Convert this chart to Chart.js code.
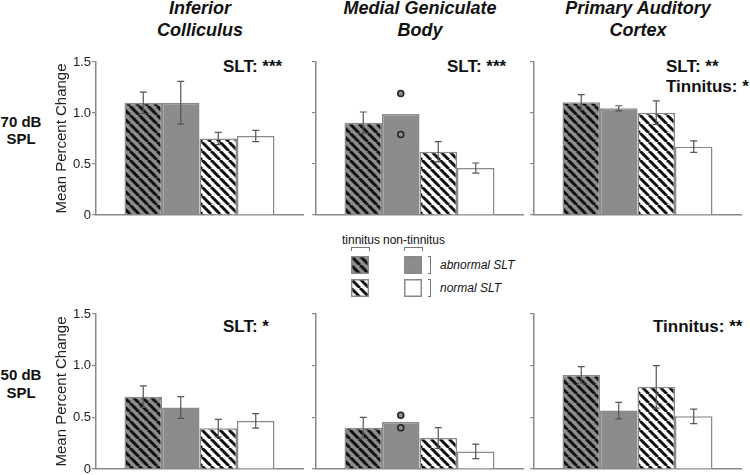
<!DOCTYPE html>
<html lang="en">
<head>
  <meta charset="UTF-8">
  <title>Mean percent change by region</title>
  <script src="https://cdn.jsdelivr.net/npm/chart.js@4.4.0/dist/chart.umd.min.js"></script>
  <style>
    body { margin: 0; width: 750px; height: 475px; position: relative; overflow: hidden; background: #fff;
           font-family: "Liberation Sans", Arial, sans-serif; color: #111; }
    .abs { position: absolute; white-space: nowrap; }
    .title { font-weight: bold; font-style: italic; font-size: 18px; line-height: 22px; text-align: center; width: 220px; }
    .row { font-weight: bold; font-size: 15px; line-height: 17px; text-align: center; width: 46px; }
    .stat { font-weight: bold; font-size: 17px; line-height: 20px; }
    .lg { font-size: 12px; line-height: 14px; }
    .lgi { font-size: 12px; line-height: 14px; font-style: italic; }
    .brk { border: 1px solid #777; border-bottom: none; height: 3px; }
    .rbrk { border: 1px solid #777; border-left: none; width: 2px; }
  </style>
</head>
<body>
  <!-- column titles -->
  <div class="abs title" style="left:90px; top:-3px;">Inferior<br>Colliculus</div>
  <div class="abs title" style="left:310px; top:-3px;">Medial Geniculate<br>Body</div>
  <div class="abs title" style="left:528px; top:-3px;">Primary Auditory<br>Cortex</div>

  <!-- row labels -->
  <div class="abs row" style="left:-2px; top:113px;">70 dB<br>SPL</div>
  <div class="abs row" style="left:-2px; top:366px; line-height:18px;">50 dB<br>SPL</div>

  <!-- stats -->
  <div class="abs stat" style="left:223px; top:57px;">SLT: ***</div>
  <div class="abs stat" style="left:447px; top:57px;">SLT: ***</div>
  <div class="abs stat" style="left:666px; top:57px;">SLT: **<br>Tinnitus: *</div>
  <div class="abs stat" style="left:223px; top:317px;">SLT: *</div>
  <div class="abs stat" style="left:653px; top:317px;">Tinnitus: **</div>

  <!-- legend -->
  <div class="abs lg" style="left:342px; top:233px;">tinnitus</div>
  <div class="abs lg" style="left:383px; top:233px;">non-tinnitus</div>
  <div class="abs brk" style="left:351px; top:247px; width:17px;"></div>
  <div class="abs brk" style="left:404px; top:247px; width:17px;"></div>
  <canvas class="abs" id="sw0" width="18" height="18" style="left:351px; top:256px;"></canvas>
  <canvas class="abs" id="sw1" width="18" height="18" style="left:404px; top:256px;"></canvas>
  <canvas class="abs" id="sw2" width="18" height="18" style="left:351px; top:279px;"></canvas>
  <canvas class="abs" id="sw3" width="18" height="18" style="left:404px; top:279px;"></canvas>
  <div class="abs rbrk" style="left:428px; top:256px; height:16px;"></div>
  <div class="abs rbrk" style="left:428px; top:279px; height:16px;"></div>
  <div class="abs lgi" style="left:440px; top:258px;">abnormal SLT</div>
  <div class="abs lgi" style="left:440px; top:281px;">normal SLT</div>

  <canvas class="abs" id="p0"></canvas>
  <canvas class="abs" id="p1"></canvas>
  <canvas class="abs" id="p2"></canvas>
  <canvas class="abs" id="p3"></canvas>
  <canvas class="abs" id="p4"></canvas>
  <canvas class="abs" id="p5"></canvas>

  <script>
    // data
    const regions = ['Inferior Colliculus', 'Medial Geniculate Body', 'Primary Auditory Cortex'];
    const levels = ['70 dB SPL', '50 dB SPL'];
    const groups = ['tinnitus, abnormal SLT', 'non-tinnitus, abnormal SLT', 'tinnitus, normal SLT', 'non-tinnitus, normal SLT'];
    const yTicks = [0, 0.5, 1.0, 1.5];

    const mean70 = [[1.10, 1.10, 0.75, 0.775], [0.905, 0.99, 0.62, 0.46], [1.105, 1.046, 1.003, 0.67]];
    const err70  = [[0.105, 0.21, 0.06, 0.055], [0.105, null, 0.10, 0.05], [0.075, 0.025, 0.115, 0.057]];
    const mean50 = [[0.70, 0.595, 0.395, 0.465], [0.40, 0.455, 0.30, 0.17], [0.91, 0.565, 0.795, 0.51]];
    const err50  = [[0.105, 0.105, 0.085, 0.07], [0.10, null, 0.10, 0.07], [0.08, 0.08, 0.205, 0.07]];
    // individual animals shown for the n=2 group in MGB
    const points70 = [null, [1.19, 0.79], null];
    const points50 = [null, [0.52, 0.40], null];

    Chart.defaults.font.family = '"Liberation Sans", Arial, sans-serif';

    const GRAY = '#8c8c8c';
    const AXIS = '#8a8a8a';

    function hatch(ctx, bg) {
      var s = 9;
      var tile = document.createElement('canvas');
      tile.width = s; tile.height = s;
      var g = tile.getContext('2d');
      g.fillStyle = bg;
      g.fillRect(0, 0, s, s);
      g.strokeStyle = '#111';
      g.lineWidth = 3;
      g.beginPath();
      for (var k = -1; k <= 1; k++) {
        g.moveTo(k * s, 0);
        g.lineTo(k * s + s, s);
      }
      g.stroke();
      return ctx.createPattern(tile, 'repeat');
    }

    function fills(ctx) {
      return [hatch(ctx, GRAY), GRAY, hatch(ctx, '#fff'), '#fff'];
    }

    // legend swatches
    for (var i = 0; i < 4; i++) {
      var sctx = document.getElementById('sw' + i).getContext('2d');
      sctx.fillStyle = fills(sctx)[i];
      sctx.fillRect(0, 0, 18, 18);
      sctx.strokeStyle = '#888';
      sctx.lineWidth = 1.5;
      sctx.strokeRect(0.75, 0.75, 16.5, 16.5);
    }

    const errorBars = {
      id: 'errorBars',
      afterDatasetsDraw(chart, args, opts) {
        const ctx = chart.ctx, y = chart.scales.y;
        ctx.save();
        ctx.strokeStyle = '#555';
        ctx.lineWidth = 1.2;
        opts.err.forEach(function (e, i) {
          if (e == null) return;
          const bar = chart.getDatasetMeta(i).data[0];
          const m = chart.data.datasets[i].data[0];
          const t = y.getPixelForValue(m + e), b = y.getPixelForValue(m - e);
          ctx.beginPath();
          ctx.moveTo(bar.x, t); ctx.lineTo(bar.x, b);
          ctx.moveTo(bar.x - 3.5, t); ctx.lineTo(bar.x + 3.5, t);
          ctx.moveTo(bar.x - 3.5, b); ctx.lineTo(bar.x + 3.5, b);
          ctx.stroke();
        });
        if (opts.points) {
          const bar = chart.getDatasetMeta(1).data[0];
          ctx.fillStyle = GRAY;
          ctx.strokeStyle = '#222';
          ctx.lineWidth = 1.5;
          opts.points.forEach(function (v) {
            ctx.beginPath();
            ctx.arc(bar.x, y.getPixelForValue(v), 3, 0, Math.PI * 2);
            ctx.fill();
            ctx.stroke();
          });
        }
        ctx.restore();
      }
    };

    const colX = [96, 316, 534];
    const rowTop = [62, 314];
    const rowSpan = [153, 155];
    const AXW = 47;

    function drawPanel(id, row, col, means, errs, pts) {
      const el = document.getElementById(id);
      el.width = AXW + 207 + 4;
      el.height = rowSpan[row] + 20;
      el.style.left = (colX[col] - AXW) + 'px';
      el.style.top = (rowTop[row] - 10) + 'px';
      const ctx = el.getContext('2d');
      const f = fills(ctx);
      const first = col === 0;

      new Chart(ctx, {
        type: 'bar',
        data: {
          labels: [regions[col]],
          datasets: groups.map(function (g, i) {
            return {
              label: g,
              data: [means[i]],
              backgroundColor: f[i],
              borderColor: AXIS,
              borderWidth: 1.5,
              categoryPercentage: 150 / 207,
              barPercentage: 1
            };
          })
        },
        options: {
          responsive: false,
          animation: false,
          layout: { padding: { top: 10, bottom: 10, left: 0, right: 4 } },
          plugins: {
            legend: { display: false },
            tooltip: { enabled: false },
            errorBars: { err: errs, points: pts }
          },
          scales: {
            x: {
              grid: { display: false, drawTicks: false },
              ticks: { display: false },
              border: { display: true, color: AXIS, width: 1.5 }
            },
            y: {
              min: 0,
              max: 1.5,
              afterFit: function (s) { s.width = AXW; },
              afterBuildTicks: function (s) { s.ticks = yTicks.map(function (v) { return { value: v }; }); },
              ticks: {
                padding: 1,
                color: '#222',
                font: { size: 13 },
                callback: function (v) { return first ? (v === 0 ? '0' : v.toFixed(1)) : ''; }
              },
              grid: { drawOnChartArea: false, drawTicks: true, tickLength: 4, color: AXIS, lineWidth: 1.2 },
              border: { color: AXIS, width: 1.5 },
              title: {
                display: first,
                text: 'Mean Percent Change',
                color: '#222',
                font: { size: 15 },
                padding: { top: 4, bottom: 0 }
              }
            }
          }
        },
        plugins: [errorBars]
      });
    }

    for (var c = 0; c < 3; c++) {
      drawPanel('p' + c, 0, c, mean70[c], err70[c], points70[c]);
      drawPanel('p' + (c + 3), 1, c, mean50[c], err50[c], points50[c]);
    }
  </script>
</body>
</html>
